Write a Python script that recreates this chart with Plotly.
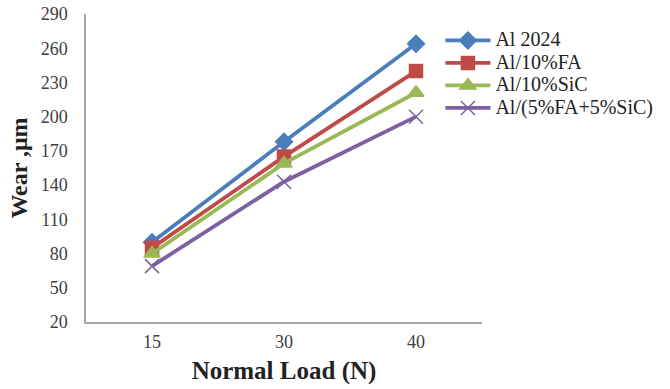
import plotly.graph_objects as go

loads = ["15", "30", "40"]
al2024 = [90, 178, 264]
al_fa = [85, 165, 240]
al_sic = [80, 159, 221]
al_hybrid = [69, 143, 200]
y_ticks = [20, 50, 80, 110, 140, 170, 200, 230, 260, 290]

series = [
    ("Al 2024", al2024, "#4A7EBB", "diamond", 13),
    ("Al/10%FA", al_fa, "#BE4B48", "square", 13),
    ("Al/10%SiC", al_sic, "#98B954", "triangle-up", 14),
    ("Al/(5%FA+5%SiC)", al_hybrid, "#7D60A0", "x-thin", 14),
]

fig = go.Figure()
for name, vals, color, sym, size in series:
    fig.add_trace(go.Scatter(
        x=loads, y=vals, name='<span style="font-size:20px">' + name + "</span>",
        mode="lines+markers",
        line=dict(color=color, width=3.8),
        marker=dict(symbol=sym, size=size, color=color,
                    line=dict(color=color, width=1.5)),
    ))

font_family = "Liberation Serif"
fig.update_layout(
    width=670, height=389,
    margin=dict(l=86, r=186, t=14, b=67),
    paper_bgcolor="white", plot_bgcolor="white",
    font=dict(family=font_family, size=18, color="#404040"),
    showlegend=True,
    legend=dict(
        x=0.895, y=0.967, xanchor="left", yanchor="top",
        font=dict(family=font_family, size=15, color="#222222"),
        itemwidth=45, tracegroupgap=0, bgcolor="rgba(0,0,0,0)",
    ),
    xaxis=dict(
        type="category", range=[-0.5, 2.5], showgrid=False, zeroline=False,
        showline=True, linecolor="#A6A6A6", linewidth=1.5, automargin=False,
        ticks="", ticklabelstandoff=3,
        title=dict(text="<b>Normal Load (N)</b>", font=dict(family=font_family, size=25, color="#222222"), standoff=10),
        tickfont=dict(family=font_family, size=18, color="#404040"),
    ),
    yaxis=dict(
        range=[20, 290], tickvals=y_ticks, showgrid=False, zeroline=False,
        showline=True, linecolor="#A6A6A6", linewidth=1.5, ticks="", automargin=False,
        ticklabelstandoff=13,
        title=dict(text="<b>Wear ,μm</b>", font=dict(family=font_family, size=24, color="#222222"), standoff=6),
        tickfont=dict(family=font_family, size=18, color="#404040"),
    ),
)

fig.write_html("out.html")
